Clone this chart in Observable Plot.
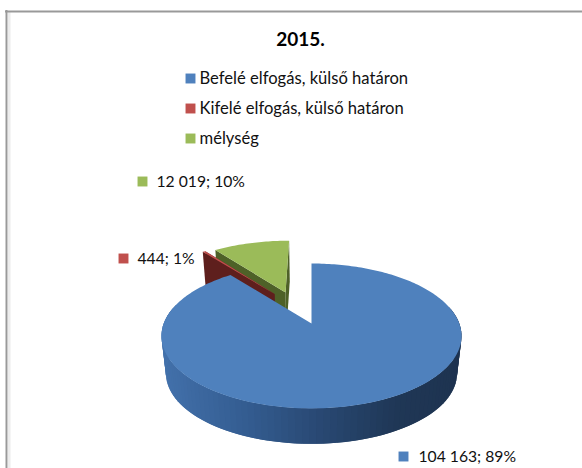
<!DOCTYPE html>
<html>
<head>
<meta charset="utf-8">
<script src="https://cdn.jsdelivr.net/npm/d3@7"></script>
<script src="https://cdn.jsdelivr.net/npm/@observablehq/plot@0.6"></script>
<style>html,body{margin:0;padding:0;background:#fff}svg{display:block}</style>
</head>
<body>
<script>
// Data
const title = "2015.";
const categories = ["Befelé elfogás, külső határon", "Kifelé elfogás, külső határon", "mélység"];
const values = [104163, 444, 12019];
const percents = [89, 1, 10];
const topColors = ["#4f81bd", "#c0504d", "#9bbb59"];
const wallColors = [null, "#5e1f1d", "#4e6128"];
const explodeU = [0, -0.27, -0.19];
const explodeV = [0, 0.453, 0.477];

// View geometry of the 3D pie
const W = 582, H = 468;
const cx = 311, cy = 323, R = 147.8, Ry = 70.3, K = 0.172, T = 38, bottomScale = 0.97;
const project = (u, v, down) => {
  const w = 1 + K * v, s = down ? bottomScale : 1;
  return [cx + s * R * u / w, cy + (down ? T : 0) - s * Ry * v / w];
};

const arcs = d3.pie().sort(null).value(d => d)(values);
let polys = [];
let id = 0;
const add = (pts, color) => { const k = id++; pts.forEach(p => polys.push({k, x: p[0], y: p[1], color})); };

const blueWall = d3.scaleLinear()
  .domain([161, 250, 320, 400, 461])
  .range(["#4371ab", "#335c90", "#294974", "#1f3756", "#1e3350"]);

[2, 1, 0].forEach(i => {
  const a = arcs[i];
  const u0 = explodeU[i], v0 = explodeV[i];
  const rim = t => [u0 + Math.sin(t), v0 + Math.cos(t)];
  const span = a.endAngle - a.startAngle;
  const n = Math.max(2, Math.ceil(span / 0.02));
  const ts = d3.range(n + 1).map(j => a.startAngle + span * j / n);
  if (i === 0) {
    // outer wall of the large slice, shaded left to right; each strip overlaps the next
    ts.filter((t, j) => j % 2 === 0).forEach((t, j, list) => {
      if (j === list.length - 1) return;
      const [ua, va] = rim(t), [ub, vb] = rim(list[Math.min(j + 2, list.length - 1)]);
      if (va > 0.2 && vb > 0.2) return;
      const px = project(ua, va, false)[0];
      add([project(ua, va, false), project(ub, vb, false), project(ub, vb, true), project(ua, va, true)], blueWall(px));
    });
  } else {
    // side faces of the exploded slices
    const [ue, ve] = rim(a.endAngle), [us, vs] = rim(a.startAngle);
    add([project(u0, v0, false), project(ue, ve, false), project(ue, ve, true), project(u0, v0, true)], wallColors[i]);
    add([project(u0, v0, false), project(us, vs, false), project(us, vs, true), project(u0, v0, true)], wallColors[i]);
  }
  add([project(u0, v0, false), ...ts.map(t => { const [u, v] = rim(t); return project(u, v, false); })], topColors[i]);
});

const fmt = v => d3.format(",")(v).replace(/,/g, " ");
const dataLabels = values.map((v, i) => `${fmt(v)}; ${percents[i]}%`);

// Layout of texts and keys
const legendRows = categories.map((c, i) => ({c, color: topColors[i], x: 190, y: [78, 108, 138][i]}));
const labelRows = dataLabels.map((t, i) => ({t, color: topColors[i],
  x: [403, 123, 142][i], y: [456, 258, 181][i], tx: [418, 137, 156][i]}));

const font = "Lato, Carlito, Calibri, sans-serif";
const swatch = (data) => Plot.dot(data, {x: "x", y: "y", symbol: "square", r: 5.6, fill: "color", stroke: "none"});

const chart = Plot.plot({
  width: W, height: H, margin: 0,
  x: {domain: [0, W], range: [0, W], axis: null},
  y: {domain: [0, H], range: [0, H], axis: null},
  color: {type: "identity"},
  marks: [
    Plot.ruleX([8.8], {y1: 12, y2: H, stroke: "#ececec", strokeWidth: 2.5}),
    Plot.ruleY([11], {x1: 5, x2: W, stroke: "#999", strokeWidth: 2}),
    Plot.ruleX([6], {y1: 10, y2: H, stroke: "#999", strokeWidth: 2}),
    Plot.line(polys, {x: "x", y: "y", z: "k", fill: "color", stroke: "none"}),
    Plot.text([title], {x: 300, y: 45, text: d => d, fontFamily: font, fontWeight: 700, fontSize: 19, fill: "#000", lineAnchor: "bottom"}),
    swatch(legendRows),
    Plot.text(legendRows, {x: () => 199, y: "y", text: "c", textAnchor: "start", fontFamily: font, fontSize: 16.6, fill: "#111"}),
    swatch(labelRows),
    Plot.text(labelRows, {x: "tx", y: "y", text: "t", textAnchor: "start", fontFamily: font, fontSize: 15.7, fill: "#111"})
  ]
});
document.body.appendChild(chart);
</script>
</body>
</html>
